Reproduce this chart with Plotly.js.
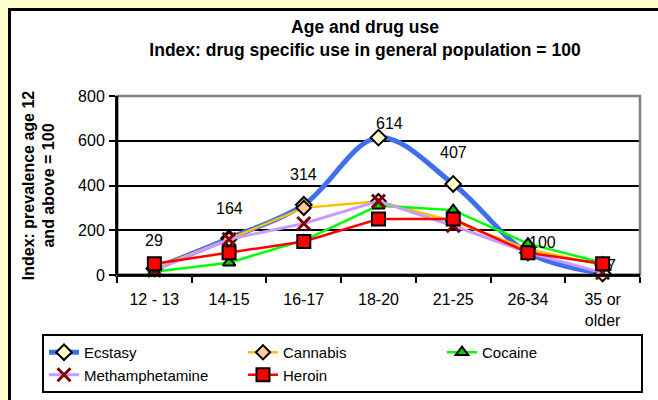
<!DOCTYPE html>
<html>
<head>
<meta charset="utf-8">
<script src="https://cdn.plot.ly/plotly-3.0.1.min.js"></script>
<style>html,body{margin:0;padding:0;background:#FFFFCC;}#chart{width:658px;height:400px;}</style>
</head>
<body>
<div id="chart"></div>
<script>
// ---- data ----
var categories = ['12 - 13', '14-15', '16-17', '18-20', '21-25', '26-34', '35 or older'];
var tickLabels = ['12 - 13', '14-15', '16-17', '18-20', '21-25', '26-34', '35 or<br>older'];
var ecstasy = [29, 164, 314, 614, 407, 100, 7];
var cannabis = [30, 160, 300, 330, 240, 115, 45];
var cocaine = [15, 55, 155, 310, 290, 140, 55];
var methamphetamine = [20, 160, 230, 330, 220, 100, 10];
var heroin = [50, 100, 150, 250, 250, 100, 50];
var ecstasyLabels = ['29', '164', '314', '614', '407', '100', '7'];

// ---- style / layout ----
var FONT = 'Arial, "Liberation Sans", sans-serif';
var W = 658, H = 400;
var M = {l: 117, r: 18, t: 96, b: 125, autoexpand: false};
var PW = W - M.l - M.r, PH = H - M.t - M.b;
function px(x) { return (x - M.l) / PW; }
function py(y) { return (H - M.b - y) / PH; }
var labelDx = [0, 0, 0, 11, 0, 15, 9];
var labelDy = [28, 30, 30, 14, 31, 10, 8];

var traces = [
  {name: 'Ecstasy', x: categories, y: ecstasy, type: 'scatter', mode: 'lines+markers',
   line: {color: '#3F6FF0', width: 5, shape: 'spline', smoothing: 1},
   marker: {symbol: 'diamond', size: 12, color: '#FFFFCC', line: {color: '#000', width: 2}}},
  {name: 'Cannabis', x: categories, y: cannabis, type: 'scatter', mode: 'lines+markers',
   line: {color: '#FFC000', width: 2.5},
   marker: {symbol: 'diamond', size: 11, color: '#FFCC99', line: {color: '#000', width: 2}}},
  {name: 'Cocaine', x: categories, y: cocaine, type: 'scatter', mode: 'lines+markers',
   line: {color: '#00FF00', width: 2.5},
   marker: {symbol: 'triangle-up', size: 11, color: '#00CC00', line: {color: '#000', width: 2}}},
  {name: 'Methamphetamine', x: categories, y: methamphetamine, type: 'scatter', mode: 'lines+markers',
   line: {color: '#CC99FF', width: 3},
   marker: {symbol: 'x-thin', size: 13, color: '#800000', line: {color: '#800000', width: 3}}},
  {name: 'Heroin', x: categories, y: heroin, type: 'scatter', mode: 'lines+markers',
   line: {color: '#FF0000', width: 2.5},
   marker: {symbol: 'square', size: 13, color: '#FF0000', line: {color: '#000', width: 2}}}
];
traces.forEach(function (t) { t.cliponaxis = false; });

var annotations = ecstasy.map(function (v, i) {
  return {x: categories[i], y: v, xref: 'x', yref: 'y', text: ecstasyLabels[i], showarrow: false,
          xanchor: 'center', yanchor: 'middle', xshift: labelDx[i], yshift: labelDy[i],
          font: {family: FONT, size: 16, color: '#000'}};
});

var layout = {
  width: W, height: H,
  margin: M,
  paper_bgcolor: '#FFFFCC',
  plot_bgcolor: 'rgba(0,0,0,0)',
  font: {family: FONT, size: 16, color: '#000'},
  title: {text: 'Age and drug use<br>Index: drug specific use in general population = 100',
          font: {family: FONT, size: 17.5, weight: 700, color: '#000'},
          xref: 'container', yref: 'container', x: 365 / W, y: 1 - 33 / H,
          xanchor: 'center', yanchor: 'middle'},
  xaxis: {type: 'category', range: [-0.5, 6.5], tickvals: categories, ticktext: tickLabels,
          ticks: 'outside', tickson: 'boundaries', ticklen: 6, tickwidth: 2, tickcolor: '#000',
          showline: true, linecolor: '#000', linewidth: 2, showgrid: false, zeroline: false,
          ticklabelstandoff: 9,
          tickfont: {family: FONT, size: 16, color: '#000'}, fixedrange: true},
  yaxis: {range: [0, 800], tickvals: [0, 200, 400, 600, 800], ticks: 'outside', ticklen: 6, tickwidth: 2,
          tickcolor: '#000', showline: true, linecolor: '#000', linewidth: 2,
          showgrid: true, gridcolor: '#000', gridwidth: 2, zeroline: false,
          tickfont: {family: FONT, size: 16, color: '#000'}, ticklabelstandoff: 1,
          title: {text: 'Index: prevalence age 12<br>and above = 100', standoff: 19,
                  font: {family: FONT, size: 16, weight: 700, color: '#000'}},
          fixedrange: true},
  legend: {orientation: 'h', x: px(42), y: py(334), xanchor: 'left', yanchor: 'top',
           bgcolor: '#FFFFFF', bordercolor: '#000', borderwidth: 2,
           entrywidth: 154, entrywidthmode: 'pixels', tracegroupgap: 0,
           font: {family: FONT, size: 15, color: '#000'}},
  shapes: [
    {type: 'rect', xref: 'paper', yref: 'paper', x0: px(9.5), x1: px(760), y0: py(520), y1: py(9.5),
     line: {color: '#000', width: 3}, fillcolor: '#FFFFFF', layer: 'below'},
    {type: 'rect', xref: 'paper', yref: 'paper', x0: 0, x1: 1, y0: 0, y1: 1,
     line: {color: '#808080', width: 2.5}, fillcolor: 'rgba(0,0,0,0)', layer: 'above'},
    {type: 'line', xref: 'paper', yref: 'paper', x0: 0, x1: 0, y0: 0, y1: 1,
     line: {color: '#000', width: 2.5}, layer: 'above'},
    {type: 'line', xref: 'paper', yref: 'paper', x0: 0, x1: 1, y0: 0, y1: 0,
     line: {color: '#000', width: 2.5}, layer: 'above'}
  ],
  annotations: annotations,
  showlegend: true
};

Plotly.newPlot('chart', traces, layout, {displayModeBar: false, staticPlot: true});
</script>
</body>
</html>
